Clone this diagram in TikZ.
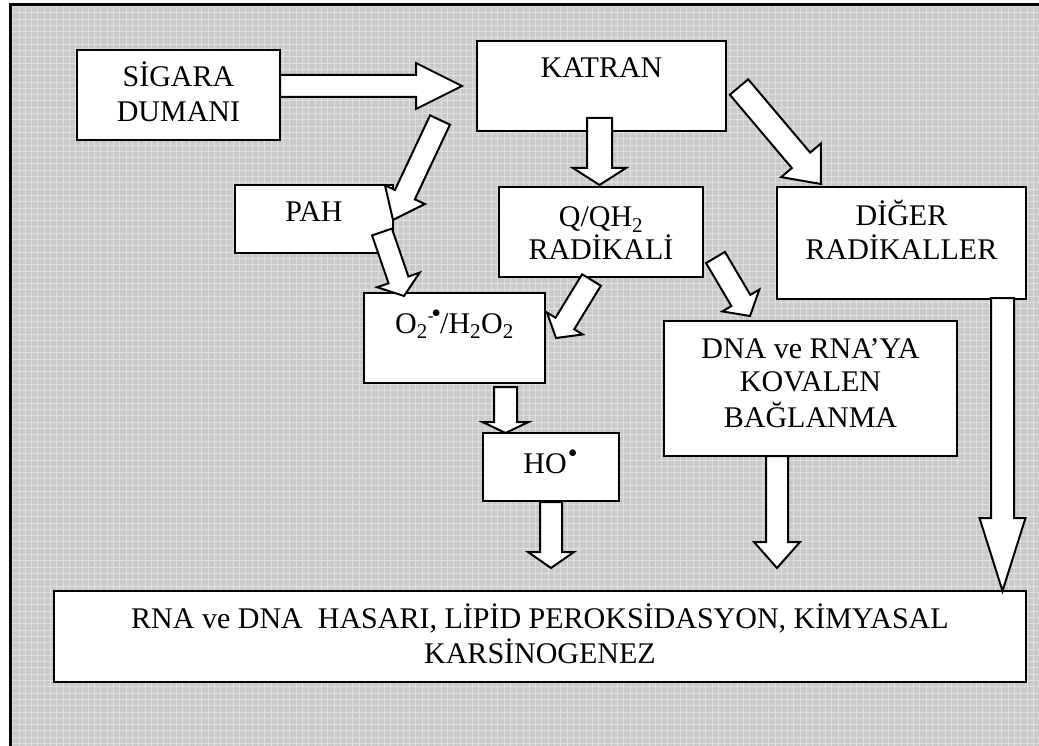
\documentclass[tikz,border=0pt]{standalone}
\usepackage{fontspec}
\setmainfont{Liberation Serif}
\usetikzlibrary{calc}
\definecolor{bggray}{RGB}{202,202,202}
\definecolor{bggrid}{RGB}{224,224,224}
\tikzset{
  box/.style={draw=black, line width=2pt, fill=white, inner sep=0pt},
  barrowstyle/.style={draw=black, line width=2pt, fill=white, line join=miter},
  lbl/.style={anchor=base, inner sep=0pt, font=\fontsize{30}{34}\selectfont},
}
\newcommand\raddot{\raisebox{11pt}{\fontsize{28}{28}\selectfont •}}
\newcommand\radminus{\raisebox{12pt}{\fontsize{17}{17}\selectfont -}}
% name, tail, tip, shaft half width, head half width, head length
\newcommand\blockarrow[6]{%
  \coordinate (#1-hb) at ($(#3)!#6!(#2)$);
  \draw[barrowstyle] ($(#2)!#4!90:(#3)$) -- ($(#1-hb)!#4!90:(#3)$) -- ($(#1-hb)!#5!90:(#3)$)
    -- (#3) -- ($(#1-hb)!#5!-90:(#3)$) -- ($(#1-hb)!#4!-90:(#3)$) -- ($(#2)!#4!-90:(#3)$) -- cycle;
}
\begin{document}
\begin{tikzpicture}[x=1pt, y=-1pt]
\useasboundingbox (0,0) rectangle (1039,746);
\clip (0,0) rectangle (1039,746);
% background
\fill[bggray] (10,5) rectangle (1045,752);
\draw[bggrid, line width=0.7pt, step=6.3pt] (10,752) grid (1045,5);
\draw[line width=3pt] (10,752) -- (10,5) -- (1045,5);

% boxes
\node[box, minimum width=203pt, minimum height=90pt] (sig) at (178.5,95) {};
\node[box, minimum width=249pt, minimum height=90pt] (katran) at (601.5,86) {};
\node[box, minimum width=158pt, minimum height=68pt] (pah) at (314,219) {};
\node[box, minimum width=204pt, minimum height=90pt] (qqh) at (601,232) {};
\node[box, minimum width=249pt, minimum height=112pt] (diger) at (901.5,243) {};
\node[box, minimum width=181pt, minimum height=90pt] (o2) at (454.5,338) {};
\node[box, minimum width=136pt, minimum height=68pt] (ho) at (551,467) {};
\node[box, minimum width=293pt, minimum height=135pt] (dna) at (810.5,388.5) {};
\node[box, minimum width=972pt, minimum height=91pt] (son) at (540,636.5) {};

% texts
\node[lbl] (sig1) at (178.5,87) {SİGARA};
\node[lbl] (sig2) at (178.5,122) {DUMANI};
\node[lbl] (kat1) at (601.5,78) {KATRAN};
\node[lbl] (pah1) at (314,222) {PAH};
\node[lbl] (qqh1) at (601,227) {Q/QH\textsubscript{2}};
\node[lbl] (qqh2) at (601,259) {RADİKALİ};
\node[lbl] (dig1) at (901.5,226) {DİĞER};
\node[lbl] (dig2) at (901.5,259) {RADİKALLER};
\node[lbl] (o21) at (454.5,333) {O\textsubscript{2}\radminus\kern-2pt\raddot\kern-1pt/H\textsubscript{2}O\textsubscript{2}};
\node[lbl] (ho1) at (550.5,473) {HO\kern1pt\raddot};
\node[lbl] (dna1) at (810.5,358) {DNA ve RNA’YA};
\node[lbl] (dna2) at (810.5,391) {KOVALEN};
\node[lbl] (dna3) at (810.5,427) {BAĞLANMA};
\node[lbl] (son1) at (540,628) {RNA ve DNA\ \ HASARI, LİPİD PEROKSİDASYON, KİMYASAL};
\node[lbl] (son2) at (540,663) {KARSİNOGENEZ};

% arrow end points
\coordinate (a1t) at (280,86);
\coordinate (a1p) at (462,86);
\coordinate (a2t) at (440,120);
\coordinate (a2p) at (393,220);
\coordinate (a3t) at (599.5,118);
\coordinate (a3p) at (599.5,185);
\coordinate (a4t) at (739,87);
\coordinate (a4p) at (821,184);
\coordinate (a5t) at (382,232);
\coordinate (a5p) at (404,296);
\coordinate (a6t) at (591.5,280);
\coordinate (a6p) at (556,338);
\coordinate (a7t) at (715.5,257.5);
\coordinate (a7p) at (750,316);
\coordinate (a8t) at (505.5,387);
\coordinate (a8p) at (505.5,433);
\coordinate (a9t) at (ho.south);
\coordinate (a9p) at (551,568);
\coordinate (a10t) at (777,456);
\coordinate (a10p) at (777,568);
\coordinate (a11t) at (1002.5,298);
\coordinate (a11p) at (1002.5,591);

% block arrows
\blockarrow{a1}{a1t}{a1p}{11pt}{23pt}{46pt}
\blockarrow{a2}{a2t}{a2p}{11pt}{22pt}{28pt}
\blockarrow{a3}{a3t}{a3p}{12.5pt}{26.5pt}{17pt}
\blockarrow{a4}{a4t}{a4p}{12pt}{26pt}{31pt}
\blockarrow{a5}{a5t}{a5p}{10.5pt}{22.5pt}{17pt}
\blockarrow{a6}{a6t}{a6p}{11pt}{21pt}{17pt}
\blockarrow{a7}{a7t}{a7p}{11pt}{21.5pt}{18pt}
\blockarrow{a8}{a8t}{a8p}{11.5pt}{23pt}{11pt}
\blockarrow{a9}{a9t}{a9p}{11pt}{23pt}{16pt}
\blockarrow{a10}{a10t}{a10p}{11pt}{23pt}{26pt}
\blockarrow{a11}{a11t}{a11p}{11.5pt}{23pt}{73pt}
\end{tikzpicture}
\end{document}
